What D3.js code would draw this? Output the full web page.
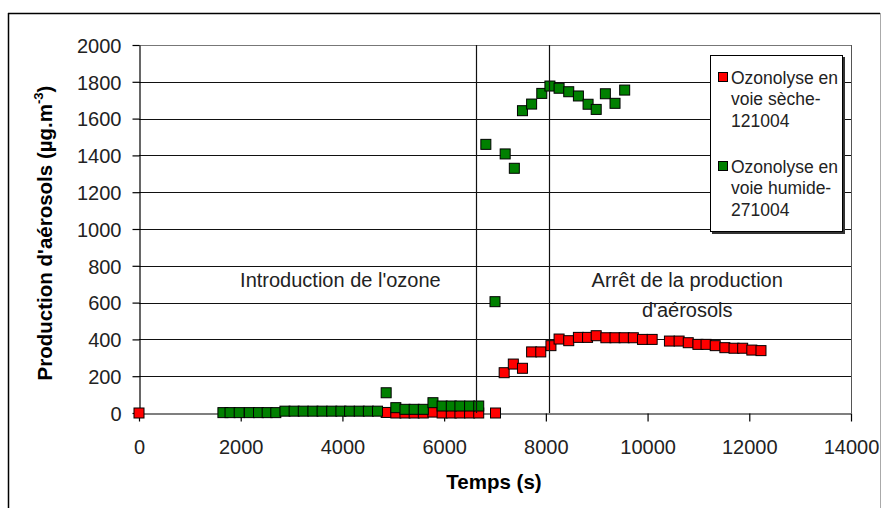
<!DOCTYPE html>
<html><head><meta charset="utf-8">
<script src="https://cdn.jsdelivr.net/npm/d3@7/dist/d3.min.js"></script>
<style>
html,body{margin:0;padding:0;background:#fff;}
svg{display:block;font-family:Arial,"Liberation Sans",sans-serif;}
</style></head>
<body>
<svg id="chart" width="882" height="508"></svg>
<script>
// ---- data ----
const xTicks = [0, 2000, 4000, 6000, 8000, 10000, 12000, 14000];
const yTicks = [0, 200, 400, 600, 800, 1000, 1200, 1400, 1600, 1800, 2000];
const seriesNames = ["Ozonolyse en voie sèche-121004", "Ozonolyse en voie humide-271004"];

const secheT = [0, 4860, 5050, 5230, 5410, 5590, 5780, 5960, 6140, 6310, 6500, 6680, 7010,
  7180, 7360, 7540, 7720, 7900, 8100, 8260, 8450, 8640, 8820, 8990, 9180, 9360, 9540, 9720,
  9900, 10090, 10430, 10620, 10800, 10990, 11150, 11330, 11520, 11700, 11870, 12050, 12230];
const secheV = [0, 3, 0, 0, 0, 0, 5, 0, 0, 0, 0, 0, 0,
  219, 266, 243, 332, 332, 366, 402, 393, 411, 411, 420, 409, 409, 409, 409,
  400, 400, 391, 391, 382, 373, 373, 366, 355, 352, 352, 342, 339];

const humideT = [1650, 1790, 1970, 2170, 2350, 2520, 2690, 2870, 3050, 3230, 3420, 3600, 3790,
  3970, 4140, 4330, 4510, 4690, 4860, 5050, 5230, 5410, 5590, 5780, 5960, 6140, 6310, 6500,
  6680, 6820, 7000, 7200, 7380, 7540, 7720, 7920, 8080, 8260, 8450, 8640, 8830, 8990, 9170,
  9360, 9550];
const humideV = [2, 2, 2, 2, 2, 2, 2, 10, 10, 10, 10, 10, 10,
  10, 10, 10, 10, 10, 110, 29, 20, 20, 20, 56, 38, 38, 38, 38,
  38, 1460, 605, 1408, 1330, 1643, 1679, 1737, 1777, 1765, 1746, 1723, 1678, 1650, 1735,
  1683, 1755];

const eventTimes = [6630, 8070];
const eventLabels = [["Introduction de l'ozone"], ["Arrêt de la production", "d'aérosols"]];
const eventLabelX = [3960, 10780];

// ---- layout ----
const svg = d3.select("#chart");
const x = d3.scaleLinear().domain([0, 14000]).range([139, 851]);
const y = d3.scaleLinear().domain([0, 2000]).range([413, 45]);
const colors = ["#ff0000", "#008000"];

// outer border
svg.append("line").attr("x1", 8).attr("x2", 880).attr("y1", 13.5).attr("y2", 13.5).attr("stroke", "#000").attr("stroke-width", 1.5);
svg.append("line").attr("x1", 8.5).attr("x2", 8.5).attr("y1", 13).attr("y2", 508).attr("stroke", "#000").attr("stroke-width", 1.5);
svg.append("line").attr("x1", 880.5).attr("x2", 880.5).attr("y1", 13).attr("y2", 508).attr("stroke", "#aaa").attr("stroke-width", 1);

// gridlines
svg.append("g").selectAll("line").data(yTicks.filter(d => d > 0)).join("line")
  .attr("x1", x(0)).attr("x2", x(14000))
  .attr("y1", d => Math.round(y(d)) + 0.5).attr("y2", d => Math.round(y(d)) + 0.5)
  .attr("stroke", d => d === 2000 ? "#777" : "#111").attr("stroke-width", 1);
// plot right border
svg.append("line").attr("x1", Math.round(x(14000)) + 0.5).attr("x2", Math.round(x(14000)) + 0.5)
  .attr("y1", y(2000)).attr("y2", y(0)).attr("stroke", "#555");

// axes
const xAxis = d3.axisBottom(x).tickValues(xTicks).tickSize(8).tickSizeOuter(0).tickFormat(d3.format("d"));
const gx = svg.append("g").attr("transform", `translate(0,${Math.round(y(0)) + 0.5})`).call(xAxis);
const yAxis = d3.axisLeft(y).tickValues(yTicks).tickSize(7).tickSizeOuter(0).tickFormat(d3.format("d"));
const gy = svg.append("g").attr("transform", `translate(${Math.round(x(0)) + 0.5},0)`).call(yAxis);
[gx, gy].forEach(g => {
  g.select(".domain").attr("stroke", "#000").attr("stroke-width", 1.2);
  g.selectAll(".tick line").attr("stroke", "#000").attr("stroke-width", 1.2);
  g.selectAll(".tick text").attr("font-size", 20).attr("fill", "#222").attr("font-family", "Arial, 'Liberation Sans', sans-serif");
});
gx.selectAll(".tick text").attr("dy", null).attr("y", 40);
gy.selectAll(".tick text").attr("x", -18).attr("dy", "0.36em");

// axis titles
svg.append("text").attr("x", 494).attr("y", 489).attr("text-anchor", "middle")
  .attr("font-size", 20.5).attr("font-weight", "bold").attr("fill", "#000").text("Temps (s)");
const yt = svg.append("text").attr("transform", "translate(52,233) rotate(-90)").attr("text-anchor", "middle")
  .attr("font-size", 20.5).attr("font-weight", "bold").attr("fill", "#000");
yt.append("tspan").text("Production d'aérosols (µg.m");
yt.append("tspan").attr("font-size", 13).attr("dy", -9).text("-3");
yt.append("tspan").attr("dy", 9).text(")");

// event annotations (text)
eventLabels.forEach((lines, i) => {
  lines.forEach((l, j) => {
    svg.append("text").attr("x", x(eventLabelX[i])).attr("y", y(683) + j * 30)
      .attr("text-anchor", "middle").attr("font-size", 20).attr("fill", "#222").text(l);
  });
});

// markers
const series = [
  secheT.map((t, i) => ({t, v: secheV[i]})),
  humideT.map((t, i) => ({t, v: humideV[i]}))
];
const ms = 10;
series.forEach((s, k) => {
  svg.append("g").selectAll("rect").data(s).join("rect")
    .attr("x", d => x(d.t) - ms / 2).attr("y", d => y(d.v) - ms / 2)
    .attr("width", ms).attr("height", ms)
    .attr("fill", colors[k]).attr("stroke", "#000").attr("stroke-width", 1);
});

// event vertical lines
svg.append("g").selectAll("line").data(eventTimes).join("line")
  .attr("x1", d => Math.round(x(d)) + 0.5).attr("x2", d => Math.round(x(d)) + 0.5)
  .attr("y1", y(2000)).attr("y2", y(0)).attr("stroke", "#111").attr("stroke-width", 1.2);

// legend
const lg = svg.append("g");
lg.append("rect").attr("x", 712).attr("y", 57).attr("width", 133).attr("height", 177).attr("fill", "#333");
lg.append("rect").attr("x", 710.5).attr("y", 55.5).attr("width", 132).attr("height", 176)
  .attr("fill", "#fff").attr("stroke", "#000").attr("stroke-width", 1);
const legendLines = [["Ozonolyse en", "voie sèche-", "121004"], ["Ozonolyse en", "voie humide-", "271004"]];
const legendTop = [77, 166];
legendLines.forEach((lines, k) => {
  lg.append("rect").attr("x", 718.5).attr("y", legendTop[k] - 4.5).attr("width", 9).attr("height", 9)
    .attr("fill", colors[k]).attr("stroke", "#000").attr("stroke-width", 1);
  lines.forEach((l, j) => {
    lg.append("text").attr("x", 731).attr("y", legendTop[k] + 6.5 + j * 21.5)
      .attr("font-size", 17.5).attr("fill", "#222").text(l);
  });
});
</script>
</body></html>
